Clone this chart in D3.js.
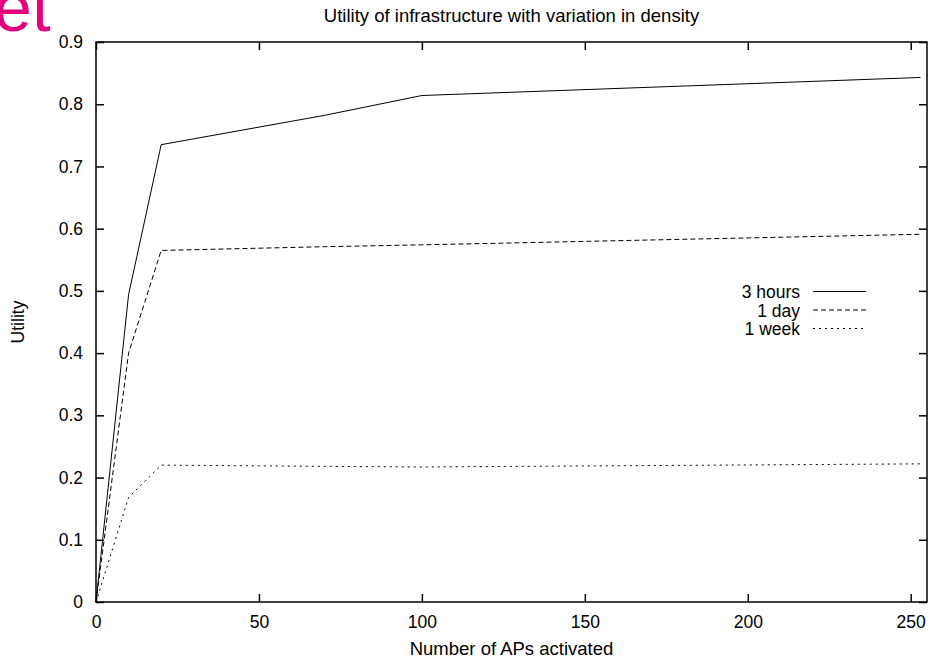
<!DOCTYPE html>
<html>
<head>
<meta charset="utf-8">
<script src="https://cdn.jsdelivr.net/npm/d3@7"></script>
<style>
  body { margin: 0; background: #fff; }
  svg text { font-family: "Liberation Sans", Arial, sans-serif; fill: #000; }
  .axis path { display: none; }
  .axis line { stroke: #000; stroke-width: 1.5; }
  .axis text { font-size: 17.5px; }
</style>
</head>
<body>
<script>
(function(){

    // values
    var apCounts = [0, 10, 20, 70, 100, 253];
    var hours3 = [0, 0.494, 0.735, 0.782, 0.814, 0.843];
    var day1 = [0, 0.40, 0.565, 0.571, 0.574, 0.591];
    var week1 = [0, 0.168, 0.220, 0.218, 0.217, 0.222];
    var seriesNames = ["3 hours", "1 day", "1 week"];
    var xTicks = [0, 50, 100, 150, 200, 250];
    var yTicks = [0, 0.1, 0.2, 0.3, 0.4, 0.5, 0.6, 0.7, 0.8, 0.9];

    var width = 933,
        height = 660,
        left = 96,
        right = 927,
        top = 42,
        bottom = 602;

    var svg = d3.select("body")
        .append("svg")
        .attr("width", width)
        .attr("height", height);

    var x = d3.scaleLinear().domain([0, 255]).range([left, right]);
    var y = d3.scaleLinear().domain([0, 0.9]).range([bottom, top]);

    // cropped magenta lettering in the top-left corner
    svg.append("text")
        .attr("x", -6)
        .attr("y", 31)
        .style("font-size", "68px")
        .style("fill", "#e4007c")
        .text("et");

    var yFmt = function(d) { return d === 0 ? "0" : d3.format(".1f")(d); };

    svg.append("g")
        .attr("class", "axis")
        .attr("transform", "translate(0," + bottom + ")")
        .call(d3.axisBottom(x).tickValues(xTicks).tickSize(-8).tickPadding(14).tickFormat(d3.format("d")));

    svg.append("g")
        .attr("class", "axis")
        .attr("transform", "translate(0," + top + ")")
        .call(d3.axisTop(x).tickValues(xTicks).tickSize(-8).tickFormat(""));

    svg.append("g")
        .attr("class", "axis")
        .attr("transform", "translate(" + left + ",0)")
        .call(d3.axisLeft(y).tickValues(yTicks).tickSize(-8).tickPadding(13).tickFormat(yFmt));

    svg.append("g")
        .attr("class", "axis")
        .attr("transform", "translate(" + right + ",0)")
        .call(d3.axisRight(y).tickValues(yTicks).tickSize(-8).tickFormat(""));

    svg.append("rect")
        .attr("x", left)
        .attr("y", top)
        .attr("width", right - left)
        .attr("height", bottom - top)
        .style("fill", "none")
        .style("stroke", "#000")
        .style("stroke-width", 1.5);

    var series = [
        { name: seriesNames[0], values: hours3, dash: null },
        { name: seriesNames[1], values: day1, dash: "5,3" },
        { name: seriesNames[2], values: week1, dash: "2,4" }
    ];

    var line = d3.line()
        .x(function(d) { return x(d[0]); })
        .y(function(d) { return y(d[1]); });

    svg.selectAll(".series")
        .data(series)
        .enter()
        .append("path")
        .attr("class", "series")
        .attr("d", function(s) {
            return line(apCounts.map(function(a, i) { return [a, s.values[i]]; }));
        })
        .style("fill", "none")
        .style("stroke", "#000")
        .style("stroke-width", 1)
        .style("stroke-dasharray", function(s) { return s.dash; });

    // legend
    var legend = svg.selectAll(".legend")
        .data(series)
        .enter()
        .append("g")
        .attr("class", "legend")
        .attr("transform", function(d, i) { return "translate(0," + (298 + i * 18.5) + ")"; });

    legend.append("text")
        .attr("x", 800)
        .attr("text-anchor", "end")
        .style("font-size", "17.5px")
        .text(function(d) { return d.name; });

    legend.append("line")
        .attr("x1", 813)
        .attr("x2", 866)
        .attr("y1", -6.5)
        .attr("y2", -6.5)
        .style("stroke", "#000")
        .style("stroke-width", 1)
        .style("stroke-dasharray", function(d) { return d.dash; });

    // titles
    svg.append("text")
        .attr("x", (left + right) / 2)
        .attr("y", 22)
        .attr("text-anchor", "middle")
        .style("font-size", "18.5px")
        .text("Utility of infrastructure with variation in density");

    svg.append("text")
        .attr("x", (left + right) / 2)
        .attr("y", 655)
        .attr("text-anchor", "middle")
        .style("font-size", "18.5px")
        .text("Number of APs activated");

    svg.append("text")
        .attr("transform", "translate(24,322) rotate(-90)")
        .attr("text-anchor", "middle")
        .style("font-size", "17.5px")
        .text("Utility");

})();
</script>
</body>
</html>
